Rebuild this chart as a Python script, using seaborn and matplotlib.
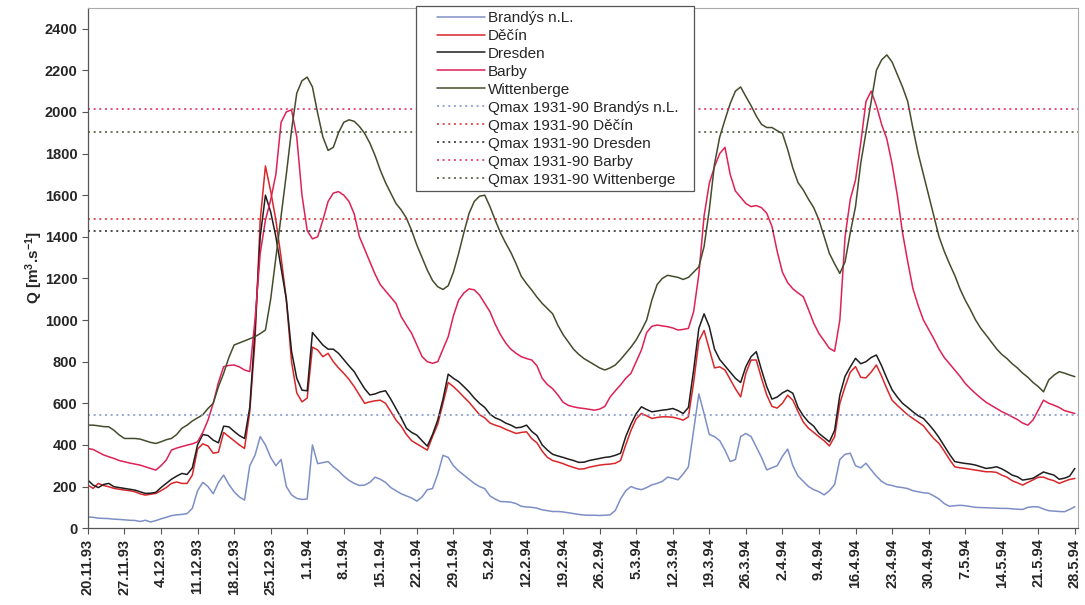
import pandas as pd
import matplotlib
matplotlib.use("Agg")
import matplotlib.pyplot as plt
from matplotlib.transforms import IdentityTransform
import seaborn as sns

# stations, colours and long-term maxima (Qmax 1931-90)
stations = ["Brandýs n.L.", "Děčín", "Dresden", "Barby", "Wittenberge"]
colors = ["#7d8fc6", "#d9262a", "#1e1e1e", "#de2156", "#434d2c"]
qmax = [543, 1484, 1428, 2013, 1904]

dates = pd.date_range("1993-11-20", "1994-05-28", freq="D")

# daily discharge [m3/s]
brandys = [54, 52, 48, 47, 46, 43, 42, 40, 38, 37,
           32, 38, 30, 36, 45, 52, 60, 64, 66, 70,
           95, 180, 220, 200, 165, 220, 255, 210, 175, 150,
           135, 300, 350, 440, 400, 340, 300, 330, 200, 160,
           143, 138, 140, 400, 310, 315, 320, 295, 275, 250,
           230, 215, 205, 207, 220, 245, 235, 220, 195, 180,
           165, 155, 145, 130, 150, 185, 190, 260, 350, 340,
           300, 275, 255, 235, 215, 200, 190, 155, 140, 128,
           127, 125, 118, 105, 102, 100, 96, 88, 84, 80,
           80, 78, 74, 70, 66, 63, 62, 62, 61, 62,
           64, 85, 140, 180, 200, 190, 185, 195, 208, 215,
           225, 245, 240, 232, 260, 295, 470, 645, 550, 450,
           440, 420, 375, 320, 330, 440, 455, 440, 390, 340,
           280, 290, 300, 345, 380, 300, 250, 225, 200, 185,
           175, 160, 180, 210, 330, 355, 360, 300, 290, 312,
           280, 250, 225, 210, 205, 198, 195, 190, 180, 175,
           170, 168, 155, 140, 118, 105, 108, 110, 108, 104,
           100, 99, 98, 97, 96, 95, 95, 93, 91, 90,
           100, 103, 102, 92, 84, 82, 80, 79, 90, 103]

decin = [207, 191, 215, 205, 199, 191, 187, 183, 180, 175,
         165, 159, 163, 167, 180, 195, 215, 222, 215, 215,
         255, 380, 405, 395, 360, 365, 460, 440, 420, 400,
         383, 560, 900, 1480, 1740, 1620, 1480, 1300, 1100, 800,
         650, 607, 625, 870, 856, 824, 840, 800, 770, 744,
         715, 680, 640, 600, 607, 612, 615, 600, 560, 520,
         490, 450, 420, 405, 390, 375, 440, 500, 600, 700,
         680, 656, 630, 605, 575, 545, 530, 505, 495, 487,
         475, 465, 455, 460, 463, 430, 410, 370, 340, 325,
         318, 310, 300, 292, 284, 285, 293, 298, 303, 306,
         308, 312, 325, 400, 470, 525, 551, 540, 527, 532,
         535, 535, 533, 527, 519, 535, 700, 900, 950, 860,
         770, 775, 760, 715, 670, 631, 744, 808, 808, 720,
         640, 585, 577, 600, 639, 615, 560, 510, 480, 460,
         439, 420, 395, 440, 600, 680, 750, 776, 725, 722,
         750, 784, 730, 670, 615, 590, 567, 545, 527, 510,
         492, 460, 430, 407, 370, 330, 295, 290, 287, 283,
         279, 275, 271, 271, 268, 255, 245, 228, 218, 207,
         220, 232, 245, 245, 235, 228, 215, 225, 234, 239]

dresden = [231, 207, 195, 210, 215, 199, 195, 191, 187, 183,
           175, 167, 168, 172, 195, 215, 235, 250, 263, 258,
           290, 400, 450, 445, 423, 410, 490, 487, 465, 445,
           431, 580, 950, 1400, 1600, 1520, 1400, 1250, 1100, 850,
           720, 663, 660, 940, 910, 880, 860, 860, 840, 810,
           780, 752, 710, 670, 640, 645, 655, 660, 620, 575,
           530, 480, 460, 447, 420, 394, 450, 520, 620, 740,
           720, 704, 680, 655, 625, 600, 580, 548, 530, 520,
           505, 495, 482, 485, 495, 465, 445, 400, 375, 355,
           347, 340, 332, 325, 316, 317, 325, 330, 335, 340,
           343, 350, 360, 440, 500, 550, 583, 570, 559, 563,
           567, 570, 575, 565, 551, 580, 760, 960, 1030, 968,
           860, 810, 780, 750, 720, 700, 776, 824, 848, 760,
           680, 620, 630, 650, 663, 648, 580, 540, 510, 490,
           455, 435, 415, 470, 640, 730, 775, 816, 790, 800,
           820, 832, 780, 720, 665, 630, 600, 580, 559, 540,
           527, 500, 470, 435, 395, 355, 320, 315, 311, 308,
           303, 295, 287, 290, 295, 285, 271, 255, 247, 231,
           235, 240, 255, 270, 262, 255, 235, 240, 250, 287]

barby = [383, 378, 365, 352, 343, 335, 325, 319, 313, 308,
         303, 295, 287, 279, 300, 327, 375, 385, 392, 399,
         405, 415, 460, 519, 600, 700, 776, 782, 784, 775,
         760, 752, 1000, 1320, 1480, 1577, 1700, 1950, 2000, 2010,
         1880, 1600, 1430, 1390, 1400, 1480, 1570, 1610, 1617, 1600,
         1570, 1510, 1400, 1340, 1280, 1220, 1170, 1140, 1110, 1080,
         1016, 975, 936, 880, 824, 800, 792, 800, 860, 920,
         1020, 1096, 1130, 1150, 1145, 1120, 1080, 1040, 980, 930,
         890, 860, 840, 824, 815, 808, 780, 720, 690, 670,
         640, 605, 590, 583, 578, 575, 571, 567, 572, 585,
         630, 660, 688, 720, 744, 800, 856, 940, 970, 976,
         972, 968, 962, 952, 955, 960, 1040, 1220, 1500, 1657,
         1737, 1800, 1830, 1700, 1620, 1590, 1560, 1545, 1550, 1540,
         1513, 1450, 1330, 1230, 1180, 1150, 1130, 1112, 1050, 985,
         935, 900, 864, 850, 1000, 1400, 1580, 1673, 1850, 2050,
         2100, 2030, 1940, 1870, 1750, 1600, 1420, 1280, 1150, 1070,
         1000, 955, 910, 860, 820, 790, 760, 730, 696, 670,
         647, 625, 605, 590, 575, 560, 548, 535, 522, 505,
         495, 520, 567, 615, 600, 591, 580, 565, 558, 551]

wittenberge = [495, 495, 492, 488, 487, 470, 448, 431, 431, 431,
               428, 420, 412, 407, 415, 425, 431, 450, 480, 495,
               515, 530, 545, 575, 600, 680, 744, 820, 880, 890,
               900, 910, 920, 935, 952, 1100, 1300, 1500, 1700, 1913,
               2090, 2150, 2167, 2120, 1994, 1880, 1815, 1830, 1900, 1950,
               1962, 1955, 1930, 1897, 1850, 1790, 1720, 1660, 1610, 1560,
               1529, 1490, 1430, 1360, 1300, 1240, 1190, 1160, 1147, 1165,
               1230, 1320, 1420, 1513, 1570, 1595, 1600, 1545, 1480, 1420,
               1370, 1325, 1270, 1210, 1175, 1144, 1110, 1080, 1055, 1030,
               975, 930, 895, 860, 835, 815, 800, 785, 770, 760,
               770, 784, 810, 840, 870, 905, 950, 1000, 1096, 1170,
               1200, 1215, 1210, 1205, 1195, 1205, 1230, 1256, 1353, 1530,
               1750, 1880, 1962, 2040, 2100, 2120, 2074, 2030, 1980, 1940,
               1925, 1925, 1910, 1897, 1820, 1730, 1660, 1625, 1580, 1540,
               1481, 1400, 1320, 1270, 1224, 1280, 1420, 1545, 1753, 1900,
               2050, 2200, 2250, 2274, 2240, 2180, 2120, 2050, 1920, 1800,
               1700, 1600, 1500, 1400, 1330, 1270, 1215, 1150, 1096, 1050,
               1000, 960, 928, 895, 862, 835, 815, 790, 770, 745,
               725, 700, 680, 655, 712, 735, 752, 745, 736, 728]

tick_dates = dates[::7]
tick_labels = [f"{d.day}.{d.month}.{d:%y}" for d in tick_dates]
y_ticks = list(range(0, 2401, 200))

df = pd.DataFrame({"date": dates, stations[0]: brandys, stations[1]: decin,
                   stations[2]: dresden, stations[3]: barby, stations[4]: wittenberge})
long_df = df.melt(id_vars="date", var_name="station", value_name="Q")

sns.set_style("ticks")
plt.rcParams["font.family"] = ["Liberation Sans", "DejaVu Sans"]
plt.rcParams["mathtext.fontset"] = "custom"
plt.rcParams["mathtext.rm"] = "Liberation Sans:bold"
plt.rcParams["mathtext.it"] = "Liberation Sans:bold"
plt.rcParams["mathtext.bf"] = "Liberation Sans:bold"

fig, ax = plt.subplots(figsize=(10.85, 6.05), dpi=100)
fig.subplots_adjust(left=0.081, right=0.994, top=0.987, bottom=0.127)

sns.lineplot(data=long_df, x="date", y="Q", hue="station", hue_order=stations,
             palette=dict(zip(stations, colors)), linewidth=1.1, ax=ax)

for s, c, q in zip(stations, colors, qmax):
    ax.axhline(q, color=c, linestyle=(0, (1.3, 2.4)), linewidth=1.1,
               label=f"Qmax 1931-90 {s}")

ax.set_xlim(dates[0], dates[-1] + pd.Timedelta(days=0.7))
ax.set_ylim(0, 2500)
ax.set_xticks(tick_dates)
ax.set_xticklabels(tick_labels, rotation=90, fontsize=10.5, fontweight="bold")
ax.set_yticks(y_ticks)
ax.set_yticklabels([str(v) for v in y_ticks], fontsize=10.5, fontweight="bold")
ax.tick_params(axis="both", direction="out", length=4, width=0.8, color="#555555")

ax.set_xlabel("")
ax.set_ylabel(r"Q [m$^3$.s$^{-1}$]", fontsize=11, fontweight="bold", labelpad=0)

for side in ["left", "bottom"]:
    ax.spines[side].set_color("#555555")
    ax.spines[side].set_linewidth(0.9)
for side in ["top", "right"]:
    ax.spines[side].set_color("#aaaaaa")
    ax.spines[side].set_linewidth(0.8)

handles, labels = ax.get_legend_handles_labels()
leg = ax.legend(handles, labels, loc="upper left", bbox_to_anchor=(0.348, 1.003),
                frameon=False, fontsize=11, handlelength=3.1, labelspacing=0.26,
                borderpad=0.3, handletextpad=0.2, borderaxespad=0)

# legend box: wider side padding than matplotlib's uniform borderpad allows
fig.canvas.draw()
bb = leg.get_window_extent()
frame = plt.Rectangle((bb.x0 - 17, bb.y0), bb.width + 28, bb.height,
                      transform=IdentityTransform(), facecolor="white",
                      edgecolor="#555555", linewidth=0.9, zorder=4.9, clip_on=False)
ax.add_patch(frame)

plt.savefig("out.png", dpi=100)
